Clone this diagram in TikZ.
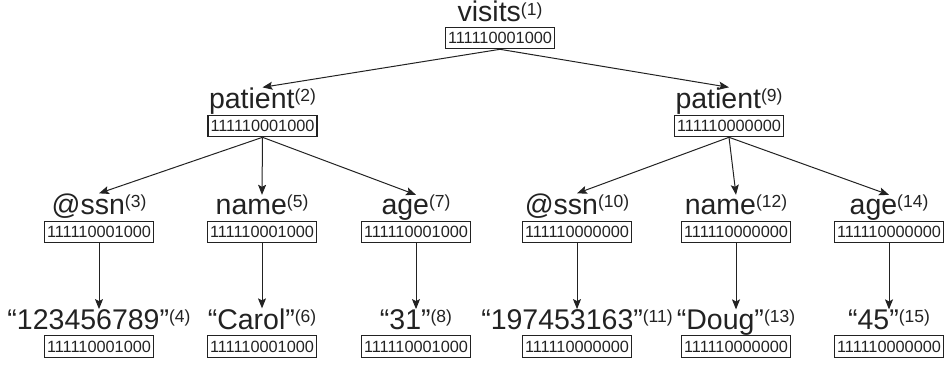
\documentclass[tikz,border=0pt]{standalone}
\usepackage{fontspec}
\setmainfont{Liberation Sans}
\usetikzlibrary{arrows.meta,calc}
\definecolor{ink}{HTML}{222222}
% raised node number after a label
\newcommand\ord[1]{\raisebox{6.5pt}{\fontsize{17.5}{17.5}\selectfont(#1)}}
\tikzset{
  bits/.style={draw=ink, text=ink, line width=1.1pt, inner xsep=2.5pt, inner ysep=0pt,
    minimum height=21.5pt, font=\fontsize{16.3}{16.3}\selectfont},
  tag/.style={inner sep=0pt, anchor=base, text=ink, font=\fontsize{28.5}{28.5}\selectfont},
  edge/.style={draw=ink, line width=1pt, -{Stealth[length=10pt,width=8pt,inset=2pt]}},
}
\begin{document}
\begin{tikzpicture}[x=1pt,y=-1pt]
\useasboundingbox (0,0) rectangle (947,368);

% root
\node[bits] (v) at (500,38) {111110001000};
\node[tag] (vl) at ($(v.north)+(0,-5)$) {visits\ord{1}};

% patients
\node[bits] (p2) at (262.5,126) {111110001000};
\node[tag] (p2l) at ($(p2.north)+(0,-6.5)$) {patient\ord{2}};
\node[bits] (p9) at (729,126) {111110000000};
\node[tag] (p9l) at ($(p9.north)+(0,-6.5)$) {patient\ord{9}};

% attributes and elements
\node[bits] (s3) at (99,232) {111110001000};
\node[tag] (s3l) at ($(s3.north)+(0,-6.5)$) {@ssn\ord{3}};
\node[bits] (n5) at (262,232) {111110001000};
\node[tag] (n5l) at ($(n5.north)+(0,-6.5)$) {name\ord{5}};
\node[bits] (a7) at (416,232) {111110001000};
\node[tag] (a7l) at ($(a7.north)+(0,-6.5)$) {age\ord{7}};
\node[bits] (s10) at (577,232) {111110000000};
\node[tag] (s10l) at ($(s10.north)+(0,-6.5)$) {@ssn\ord{10}};
\node[bits] (n12) at (736,232) {111110000000};
\node[tag] (n12l) at ($(n12.north)+(0,-6.5)$) {name\ord{12}};
\node[bits] (a14) at (889,232) {111110000000};
\node[tag] (a14l) at ($(a14.north)+(0,-6.5)$) {age\ord{14}};

% text values
\node[bits] (t4) at (99,346.5) {111110001000};
\node[tag] (t4l) at ($(t4.north)+(0,-6)$) {“123456789”\ord{4}};
\node[bits] (t6) at (262,346.5) {111110001000};
\node[tag] (t6l) at ($(t6.north)+(0,-6)$) {“Carol”\ord{6}};
\node[bits] (t8) at (416,346.5) {111110001000};
\node[tag] (t8l) at ($(t8.north)+(0,-6)$) {“31”\ord{8}};
\node[bits] (t11) at (577,346.5) {111110000000};
\node[tag] (t11l) at ($(t11.north)+(0,-6)$) {“197453163”\ord{11}};
\node[bits] (t13) at (736,346.5) {111110000000};
\node[tag] (t13l) at ($(t13.north)+(0,-6)$) {“Doug”\ord{13}};
\node[bits] (t15) at (889,346.5) {111110000000};
\node[tag] (t15l) at ($(t15.north)+(0,-6)$) {“45”\ord{15}};

% edges
\draw[edge] (v.south) -- (p2l.north);
\draw[edge] (v.south) -- (p9l.north);
\foreach \c in {s3,n5,a7} \draw[edge] (p2.south) -- (\c l.north);
\foreach \c in {s10,n12,a14} \draw[edge] (p9.south) -- (\c l.north);
\foreach \p/\c in {s3/t4,n5/t6,a7/t8,s10/t11,n12/t13,a14/t15}
  \draw[edge] (\p.south) -- (\c l.north);
\end{tikzpicture}
\end{document}
